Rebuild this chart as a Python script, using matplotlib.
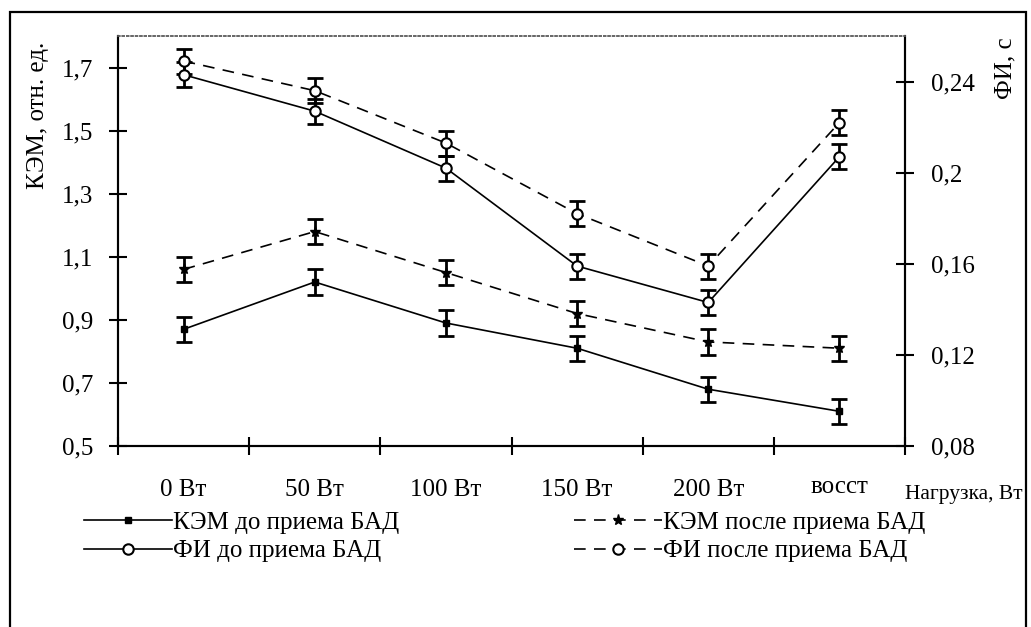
import numpy as np
import matplotlib.pyplot as plt
from matplotlib.patches import Rectangle

plt.rcParams['font.family'] = ['Liberation Serif', 'DejaVu Serif']

# Data
categories = ['0 Вт', '50 Вт', '100 Вт', '150 Вт', '200 Вт', 'восст']
kem_before = [0.87, 1.02, 0.89, 0.81, 0.68, 0.61]
kem_after = [1.06, 1.18, 1.05, 0.92, 0.83, 0.81]
fi_before = [0.243, 0.227, 0.202, 0.159, 0.143, 0.207]
fi_after = [0.249, 0.236, 0.213, 0.182, 0.159, 0.222]
kem_err = [0.04, 0.04, 0.04, 0.04, 0.04, 0.04]
fi_err = [0.0055, 0.0055, 0.0055, 0.0055, 0.0055, 0.0055]

left_ticks = [0.5, 0.7, 0.9, 1.1, 1.3, 1.5, 1.7]
right_ticks = [0.08, 0.12, 0.16, 0.2, 0.24]

x = np.arange(len(categories)) + 0.5
dash = (0, (7, 5))
fs = 18

fig = plt.figure(figsize=(10.31, 6.27), dpi=100)
W, H = 1031, 627
ax1 = fig.add_axes([118 / W, 1 - 446 / H, (905 - 118) / W, (446 - 36) / H])
ax2 = ax1.twinx()

# outer frame
fig.add_artist(Rectangle((10 / W, -0.05), (1026 - 10) / W, 1 - 12 / H + 0.05,
                         transform=fig.transFigure, fill=False, lw=1.6, color='black'))

ebkw = dict(ecolor='black', elinewidth=2, capsize=5.5, capthick=2, color='black')

ax1.errorbar(x, kem_before, yerr=kem_err, fmt='none', **ebkw)
ax1.errorbar(x, kem_after, yerr=kem_err, fmt='none', **ebkw)
l1, = ax1.plot(x, kem_before, '-', color='black', lw=1.2, marker='s', ms=5)
l2, = ax1.plot(x, kem_after, color='black', lw=1.2, ls=dash, marker='*', ms=8)

ax2.errorbar(x, fi_before, yerr=fi_err, fmt='none', **ebkw)
ax2.errorbar(x, fi_after, yerr=fi_err, fmt='none', **ebkw)
l3, = ax2.plot(x, fi_before, '-', color='black', lw=1.2, marker='o', ms=7.5,
               mfc='white', mec='black', mew=1.5)
l4, = ax2.plot(x, fi_after, color='black', lw=1.2, ls=dash, marker='o', ms=7.5,
               mfc='white', mec='black', mew=1.5)

ax1.set_xlim(0, len(categories))
ax1.set_ylim(0.5, 1.8)
ax2.set_ylim(0.08, 0.26)

ax1.set_xticks(x)
ax1.set_xticklabels(categories, fontsize=fs)
ax1.get_xticklabels()[-1].set_y(0.008)
ax1.set_xticks(np.arange(len(categories) + 1), minor=True)
ax1.tick_params(axis='x', which='major', length=0, pad=24)
ax1.tick_params(axis='x', which='minor', direction='inout', length=13, width=1.5)

ax1.set_yticks(left_ticks)
ax1.set_yticklabels([str(t).replace('.', ',') for t in left_ticks], fontsize=fs)
ax1.tick_params(axis='y', direction='inout', length=13, width=1.5, pad=11)

ax2.set_yticks(right_ticks)
ax2.set_yticklabels([str(t).replace('.', ',') for t in right_ticks], fontsize=fs)
ax2.tick_params(axis='y', direction='inout', length=13, width=1.5, pad=12)

for a in (ax1, ax2):
    a.spines['top'].set_linestyle(':')
    a.spines['top'].set_color('#666666')
    a.spines['top'].set_linewidth(1.2)
    a.spines['left'].set_linewidth(1.5)
    a.spines['right'].set_linewidth(1.5)
    a.spines['bottom'].set_linewidth(1.5)

fig.text(905 / W, 1 - 494 / H, 'Нагрузка, Вт', fontsize=15.5, ha='left', va='center')
fig.text(38 / W, 1 - 115 / H, 'КЭМ, отн. ед.', fontsize=fs, rotation=90,
         ha='center', va='center')
fig.text(1005 / W, 1 - 68 / H, 'ФИ, с', fontsize=fs, rotation=90,
         ha='center', va='center')

leg_kw = dict(frameon=False, fontsize=fs, handlelength=3.5, handletextpad=0.05,
              labelspacing=0.25, borderpad=0, borderaxespad=0)
lg1 = fig.legend([l1, l3], ['КЭМ до приема БАД', 'ФИ до приема БАД'],
                 loc='upper left', bbox_to_anchor=(84 / W, 1 - 511 / H), **leg_kw)
lg2 = fig.legend([l2, l4], ['КЭМ после приема БАД', 'ФИ после приема БАД'],
                 loc='upper left', bbox_to_anchor=(574 / W, 1 - 511 / H), **leg_kw)

fig.savefig('out.png', dpi=100)
